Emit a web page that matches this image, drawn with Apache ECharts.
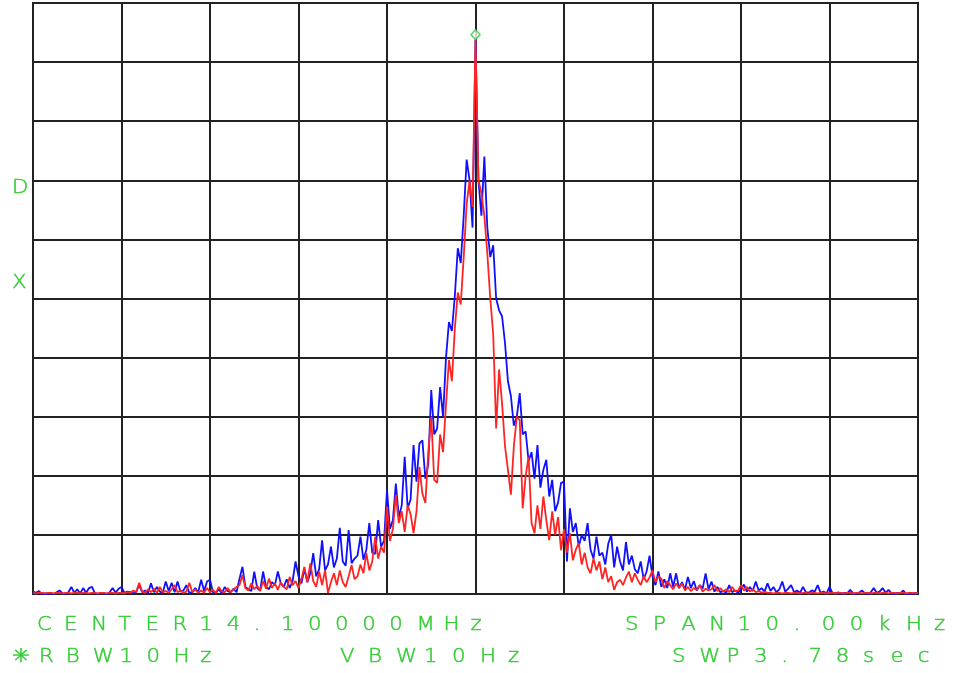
<!DOCTYPE html>
<html>
<head>
<meta charset="utf-8">
<script src="https://cdn.jsdelivr.net/npm/echarts@6/dist/echarts.min.js"></script>
<style>
  html, body { margin: 0; padding: 0; background: #fff; }
  #chart { width: 953px; height: 673px; }
</style>
</head>
<body>
<div id="chart"></div>
<script>
// Spectrum analyser sweep: 301 points across 10 kHz span, level in dB above the bottom graticule line (10 dB/div)
const SPAN_KHZ = 10;
const POINTS = 301;

// Trace A (blue)
const traceA = [
  0.4,0.2,0.5,0,0.1,0,0.2,0,0.3,0.6,
  0.1,0,0.3,1.2,0.2,0.8,0.1,1.0,0.2,1.0,
  1.2,0.1,0,0.2,0.1,0,0.3,1.0,0.2,0.9,
  1.2,0.2,0.4,0.3,0.1,0.4,1.5,0.3,0.6,0.2,
  1.8,0.3,1.2,0.4,0.2,2.1,0.5,1.9,0.3,2.1,
  0.4,0.6,1.5,0.2,0.3,1.0,0.3,2.4,0.5,2.1,
  2.4,0.3,0.2,0.8,0.1,1.2,0.5,0.3,0.9,0.3,
  2.6,4.6,1.2,0.8,0.5,3.8,1.0,0.6,3.8,1.2,
  0.8,2.0,1.5,3.8,1.8,1.2,2.5,1.0,2.2,5.5,
  3.0,1.8,4.2,2.0,3.5,6.9,3.0,4.2,9.1,4.0,
  5.0,8.0,4.5,6.0,11.2,5.5,4.8,10.8,5.2,6.0,
  6.5,9.7,5.8,7.5,12.0,7.0,6.8,12.5,8.0,9.0,
  17.6,11.0,12.5,18.7,13.0,15.0,23.2,14.5,16.0,25.2,
  19.0,25.5,26.0,19.5,22.0,34.5,27.0,28.0,35.0,30.0,
  40.0,46.0,44.5,50.5,58.5,56.0,64.0,73.5,70.0,62.0,
  93.8,
  70.0,64.0,74.0,62.0,57.0,59.0,50.0,48.0,47.0,
  42.5,36.0,33.5,28.5,30.0,34.0,27.0,27.5,22.5,24.0,
  19.5,25.2,18.0,21.0,22.7,16.5,19.3,14.0,15.5,18.8,
  19.0,5.5,14.5,10.5,12.0,8.0,10.0,9.0,12.0,7.5,
  6.0,9.7,6.5,7.0,5.0,8.5,10.0,4.5,8.0,5.5,
  4.0,8.8,5.0,6.5,4.2,3.5,5.5,2.5,3.8,6.5,
  3.0,1.5,3.8,1.2,2.5,1.0,3.5,1.2,3.5,1.0,
  2.0,0.8,2.9,1.0,2.2,0.6,1.5,0.9,3.5,0.8,
  2.1,0.4,1.2,0.3,0.5,0.2,1.5,0.3,0.6,0.2,
  0.8,1.6,0.4,1.2,0.5,2.1,0.6,1.0,0.4,1.8,
  0.5,1.2,0.3,0.8,2.1,0.4,0.9,1.5,0.3,0.6,
  0.2,1.2,0.3,0.2,0.6,0.4,1.5,0.2,0.4,0.1,
  1.2,0.2,0.1,0.3,0,0.2,0.1,0.7,0.1,0,
  0.2,0.6,0.1,0,0.3,1.0,0.2,0.4,1.0,0.2,
  0.7,0.1,0,0.2,0.1,0.6,0,0.1,0,0.2,0
];

// Trace B (red)
const traceB = [
  0.2,0.1,0.2,0.2,0.1,0.2,0.2,0.1,0.2,0.2,
  0.1,0.2,0.2,0.1,0.2,0.2,0.1,0.2,0.2,0.1,
  0.2,0.2,0.1,0.2,0.2,0.1,0.2,0.2,0.1,0.2,
  0.2,0.1,0.3,0.2,0.6,0.3,1.9,0.4,0.2,0.8,
  0.3,0.9,0.2,1.2,0.3,0.5,0.2,0.8,1.5,0.3,
  0.6,0.2,0.4,1.9,0.3,0.8,0.2,0.6,0.2,1.0,
  0.3,0.7,0.2,1.2,0.4,0.3,1.0,0.3,0.8,1.2,
  1.5,3.2,1.0,0.6,1.8,0.8,1.4,0.5,2.2,0.9,
  2.6,1.0,1.8,0.7,2.0,1.2,0.8,2.9,1.5,2.2,
  1.0,2.5,4.6,2.0,5.2,2.2,1.2,3.8,1.5,4.0,
  0.2,2.0,3.5,1.5,4.0,2.0,1.2,3.0,4.9,2.5,
  3.0,5.0,3.5,6.9,4.0,5.5,9.7,6.0,8.0,7.0,
  14.8,9.0,11.0,16.8,12.0,14.0,10.5,15.0,13.5,10.3,
  14.0,21.5,17.0,15.4,24.0,30.0,19.3,18.8,27.0,24.0,
  32.0,39.6,36.0,45.0,51.0,49.0,57.0,66.0,70.0,65.5,
  93.8,
  70.0,67.8,64.0,57.7,50.0,44.0,28.0,38.0,32.3,
  25.0,21.0,16.8,25.0,30.0,29.4,14.5,20.0,23.2,12.0,
  10.3,15.0,11.0,16.5,12.5,9.1,14.0,10.0,13.0,7.4,
  11.0,7.0,10.3,5.7,7.5,8.6,5.0,7.0,4.5,3.5,
  6.0,4.0,5.5,2.5,4.5,2.0,3.0,0.7,2.0,2.4,
  1.5,2.8,3.8,2.0,3.5,2.4,1.5,3.0,2.0,2.8,
  4.0,2.0,3.0,2.6,1.0,2.2,1.5,0.8,1.8,1.0,
  1.8,0.6,1.2,0.5,1.0,0.7,1.5,0.4,0.9,0.6,
  0.8,1.5,0.5,1.0,0.4,0.8,0.3,1.2,0.5,0.6,
  1.5,0.6,1.2,0.4,0.8,0.3,0.5,0.2,0.4,0.2,
  0.2,0.1,0.2,0.2,0.1,0.2,0.2,0.1,0.2,0.2,
  0.1,0.2,0.2,0.1,0.2,0.2,0.1,0.2,0.2,0.1,
  0.2,0.2,0.1,0.2,0.2,0.1,0.2,0.2,0.1,0.2,
  0.2,0.1,0.2,0.2,0.1,0.2,0.2,0.1,0.2,0.2,
  0.1,0.2,0.2,0.1,0.2,0.2,0.1,0.2,0.2,0.1,0.2
];

// Peak marker (frequency offset in kHz, level)
const markerPoint = [0, 93.8];

// Annotation strings: [text, left x of first char, char pitch, centre y]
const annotations = [
  ['CENTER14.10000MHz', 37, 27.1, 625],
  ['SPAN10.00kHz', 625, 28.1, 625],
  ['\u2733RBW10Hz', 12, 26.9, 657],
  ['VBW10Hz', 340, 28, 657],
  ['SWP3.78sec', 672, 27.3, 657],
  ['D', 12, 0, 188],
  ['X', 12, 0, 283]
];

const GREEN = '#33cc33';

// frequency offset of sweep point i, in kHz from centre
function freqAt(i) { return -SPAN_KHZ / 2 + i * SPAN_KHZ / (POINTS - 1); }
function toSeries(levels) { return levels.map((v, i) => [freqAt(i), v]); }

// Plotter-style fixed-pitch lettering: each glyph placed on its own cell
function lettering(text, x0, pitch, y) {
  return Array.from(text).map((ch, k) => ({
    type: 'text',
    x: x0 + k * pitch,
    y: y,
    scaleX: 1.12,
    silent: true,
    style: {
      text: ch,
      fill: GREEN,
      stroke: GREEN,
      lineWidth: 0.45,
      font: '200 19px "DejaVu Sans", sans-serif',
      textAlign: 'left',
      textVerticalAlign: 'middle'
    }
  }));
}

const graphics = [];
annotations.forEach(a => graphics.push(...lettering(a[0], a[1], a[2], a[3])));

const chart = echarts.init(document.getElementById('chart'), null, { renderer: 'canvas' });
chart.setOption({
  animation: false,
  backgroundColor: '#fff',
  grid: {
    left: 33, top: 3, right: 35, bottom: 79,
    show: true, borderColor: '#222', borderWidth: 2, backgroundColor: '#fff'
  },
  xAxis: {
    type: 'value', min: -5, max: 5, interval: 1,
    axisLine: { show: false }, axisTick: { show: false }, axisLabel: { show: false },
    splitLine: { show: true, lineStyle: { color: '#222', width: 2 } }
  },
  yAxis: {
    type: 'value', min: 0, max: 100, interval: 10,
    axisLine: { show: false }, axisTick: { show: false }, axisLabel: { show: false },
    splitLine: { show: true, lineStyle: { color: '#222', width: 2 } }
  },
  series: [
    {
      name: 'Trace A', type: 'line', data: toSeries(traceA),
      showSymbol: false, symbol: 'none',
      lineStyle: { color: '#1010ff', width: 1.8 }, z: 2
    },
    {
      name: 'Trace B', type: 'line', data: toSeries(traceB),
      showSymbol: false, symbol: 'none',
      lineStyle: { color: '#ff2424', width: 1.8 }, z: 3
    },
    {
      name: 'Marker', type: 'scatter', data: [markerPoint],
      symbol: 'diamond', symbolSize: [9, 10], symbolOffset: [0, -5],
      itemStyle: { color: '#fff', borderColor: GREEN, borderWidth: 1.5 }, z: 4
    }
  ],
  graphic: graphics
});
</script>
</body>
</html>
